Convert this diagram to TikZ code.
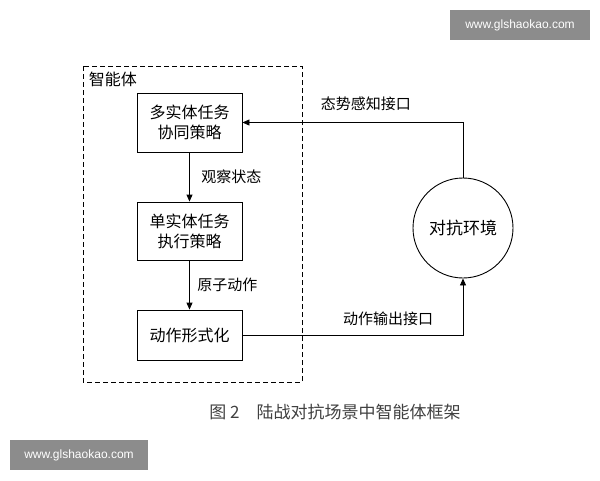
\documentclass[tikz,border=0pt]{standalone}
\usepackage{fontspec}
\setmainfont{Liberation Sans}
\newfontfamily\cjk{Noto Sans CJK SC}
\usetikzlibrary{positioning,arrows.meta}
\tikzset{every picture/.style={line width=0.9pt},
  stagebox/.style={draw,minimum width=105pt,align=center,font=\cjk\fontsize{16}{20}\selectfont},
  flowarrow/.style={-{Triangle[length=7pt,width=6pt]}},
  edgelabel/.style={font=\cjk\fontsize{15}{18}\selectfont},
  markbox/.style={fill=black!45,text=white,inner sep=0pt,font=\fontsize{12}{14}\selectfont}}
\begin{document}
\begin{tikzpicture}[x=1pt,y=1pt,yscale=-1]
        \useasboundingbox (0,0) rectangle (600,480);
        % Agent frame
        \draw [dash pattern=on 5pt off 3pt] (83,66) rectangle (302,382);
        \node (agentlabel) [anchor=west,font=\cjk\fontsize{16}{19}\selectfont] at (85,79) {智能体};
        % Stages
        \node (coop) [stagebox,minimum height=59pt] at (189.5,122.5) {多实体任务\\协同策略};
        \node (exec) [stagebox,minimum height=58pt] at (189.5,231) {单实体任务\\执行策略};
        \node (form) [stagebox,minimum height=50pt] at (189.5,335) {动作形式化};
        % Environment
        \node (env) [draw,circle,minimum size=100pt,font=\cjk\fontsize{17}{20}\selectfont] at (463,228) {对抗环境};
        % Connectors
        \draw [flowarrow] (coop) -- (exec) node [midway,right=8pt,edgelabel] {观察状态};
        \draw [flowarrow] (exec) -- (form) node [midway,right=4pt,edgelabel] {原子动作};
        \draw [flowarrow] (env.north) |- (coop.east) node [pos=0.72,above=8pt,edgelabel] {态势感知接口};
        \draw [flowarrow] (form.east) -| (env.south) node [pos=0.33,above=5pt,edgelabel] {动作输出接口};
        % Caption
        \node (caption) [text=black!75,font=\cjk\fontsize{17}{20}\selectfont] at (335,412) {图 2\quad 陆战对抗场景中智能体框架};
        % Watermarks
        \node (markA) [markbox,minimum width=140pt,minimum height=30pt] at (520,25) {www.glshaokao.com};
        \node (markB) [markbox,minimum width=138pt,minimum height=30pt] at (79,455) {www.glshaokao.com};
\end{tikzpicture}
\end{document}
